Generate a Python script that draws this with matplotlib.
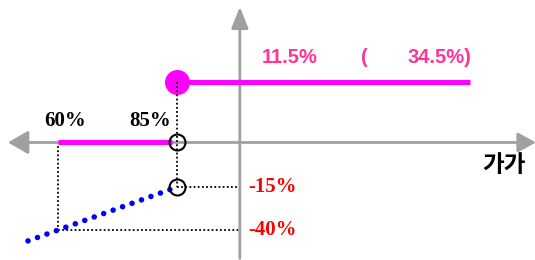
import matplotlib
matplotlib.use("Agg")
import matplotlib.pyplot as plt

# ---- data (schematic values) ----
thresholds = [60, 85]            # x positions (%)
threshold_labels = ["60%", "85%"]
low_values = [-40, -15]          # values of the blue line at thresholds
low_labels = ["-40%", "-15%"]
blue_start = 53.7                # blue line extends left of 60%
upper_level = 46.0               # plotted level of upper segment
upper_end = 146.6
upper_text = ["11.5%", "(", "34.5%)"]
axis_label = "가가"

# diagram frame
xlim = (47.82, 160.2)
ylim = (-57.4, 93.7)
yaxis_x = 98.2
baseline = 10.9

GRAY = "#a0a0a0"
MAG = "#ff00ff"
PINK = "#ff3399"
RED = "#ff0000"
BLUE = "#0000ff"

fig = plt.figure(figsize=(5.35, 2.6), dpi=100)
ax = fig.add_axes([0, 0, 1, 1])
ax.set_xlim(*xlim)
ax.set_ylim(*ylim)
ax.axis("off")

# axes with arrows
def arrow(tip, start, hl, hw):
    ax.annotate("", xy=tip, xytext=start, annotation_clip=False,
                arrowprops=dict(arrowstyle=f"-|>,head_length={hl},head_width={hw}",
                                mutation_scale=20, color=GRAY, lw=2,
                                shrinkA=0, shrinkB=0))

arrow((49.5, baseline), (yaxis_x, baseline), 0.62, 0.36)
arrow((160.4, baseline), (yaxis_x, baseline), 0.55, 0.30)
arrow((yaxis_x, 89.7), (yaxis_x, -56.5), 0.65, 0.26)

# black dotted guides
dot = dict(color="black", lw=1.3, linestyle=(0, (1, 1.3)))
ax.plot([thresholds[1], thresholds[1]], [upper_level, low_values[1]], **dot, zorder=6)
ax.plot([thresholds[0], thresholds[0]], [baseline, low_values[0]], **dot, zorder=2)
ax.plot([thresholds[1], yaxis_x], [low_values[1], low_values[1]], **dot, zorder=2)
ax.plot([thresholds[0], yaxis_x], [low_values[0], low_values[0]], **dot, zorder=2)

# magenta segments
ax.plot([thresholds[0], thresholds[1] - 1], [baseline, baseline], color=MAG, lw=3.7,
        solid_capstyle="butt", zorder=3)
ax.plot([thresholds[1], upper_end], [upper_level, upper_level], color=MAG, lw=3.7,
        solid_capstyle="butt", zorder=3)
ax.plot([thresholds[1]], [upper_level], "o", color=MAG, ms=17, zorder=4)

# blue dotted line
slope = (low_values[1] - low_values[0]) / (thresholds[1] - thresholds[0])
bx = [blue_start, thresholds[1]]
by = [low_values[0] + slope * (blue_start - thresholds[0]), low_values[1]]
ax.plot(bx, by, color=BLUE, lw=4.0, linestyle=(0, (0.01, 1.8)),
        dash_capstyle="round", zorder=3)

# open circles
ax.plot([thresholds[1]], [baseline], "o", mfc="none", mec="black", ms=11.5, mew=1.5, zorder=5)
ax.plot([thresholds[1]], [low_values[1]], "o", mfc="none", mec="black", ms=11.5, mew=1.5, zorder=5)

# labels
serif = "Liberation Serif"
ax.text(61.5, 23.4, threshold_labels[0], ha="center", va="center",
        fontsize=15, fontweight="bold", family=serif, color="black")
ax.text(79.3, 23.4, threshold_labels[1], ha="center", va="center",
        fontsize=15, fontweight="bold", family=serif, color="black")
for v, lab in zip(low_values, low_labels):
    ax.text(99.9, v, lab, ha="left", va="center", fontsize=15,
            fontweight="bold", family=serif, color=RED)

sans = "Liberation Sans"
ax.text(102.86, 60.0, upper_text[0], ha="left", va="center", fontsize=14.5,
        fontweight="bold", family=sans, color=PINK)
ax.text(123.6, 60.0, upper_text[1], ha="left", va="center", fontsize=14.5,
        fontweight="bold", family=sans, color=PINK)
ax.text(133.5, 60.0, upper_text[2], ha="left", va="center", fontsize=14.5,
        fontweight="bold", family=sans, color=PINK)

ax.text(153.7, -2.2, axis_label, ha="center", va="center", fontsize=17,
        fontweight="bold", family=["Noto Sans CJK KR", "DejaVu Sans"], color="black")

fig.savefig("out.png", dpi=100)
